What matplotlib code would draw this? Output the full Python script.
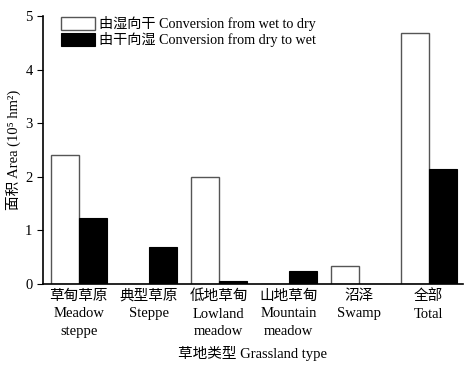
import numpy as np
import matplotlib.pyplot as plt

plt.rcParams['font.family'] = ['Liberation Serif', 'Noto Sans CJK SC']

# 草地类型
categories = ['草甸草原\nMeadow\nsteppe', '典型草原\nSteppe', '低地草甸\nLowland\nmeadow',
              '山地草甸\nMountain\nmeadow', '沼泽\nSwamp', '全部\nTotal']
# 面积 (10^5 hm^2)
wet_to_dry = [2.41, 0.0, 2.00, 0.0, 0.33, 4.68]
dry_to_wet = [1.23, 0.69, 0.05, 0.24, 0.0, 2.14]

x = np.arange(len(categories))
w = 0.4

fig = plt.figure(figsize=(4.72, 3.74), dpi=100)
ax = fig.add_axes([0.091, 0.241, 0.89, 0.716])

ax.bar(x - w / 2, wet_to_dry, w, color='white', edgecolor='#555555', linewidth=1.0,
       label='由湿向干 Conversion from wet to dry')
ax.bar(x + w / 2, dry_to_wet, w, color='black', edgecolor='black', linewidth=0.8,
       label='由干向湿 Conversion from dry to wet')

ax.set_xlim(-0.51, 5.49)
ax.set_ylim(0, 5)
ax.set_yticks([0, 1, 2, 3, 4, 5])
ax.set_xticks(x)
ax.set_xticklabels(categories, fontsize=10.5, linespacing=1.45)
ax.tick_params(axis='x', length=0, pad=4)
ax.tick_params(axis='y', direction='out', length=4, labelsize=10.5)

for s in ['top', 'right']:
    ax.spines[s].set_visible(False)
ax.spines['left'].set_linewidth(1.2)
ax.spines['bottom'].set_linewidth(1.2)

ax.set_ylabel('面积 Area (10⁵ hm²)', fontsize=10.5, labelpad=3)
ax.set_xlabel('草地类型 Grassland type', fontsize=10.5, labelpad=6)

ax.legend(loc='upper left', bbox_to_anchor=(0.03, 1.02), frameon=False, fontsize=10.2,
          handlelength=2.4, handleheight=1.05, handletextpad=0.3, labelspacing=0.05,
          borderaxespad=0)

plt.savefig('out.png', dpi=100)
